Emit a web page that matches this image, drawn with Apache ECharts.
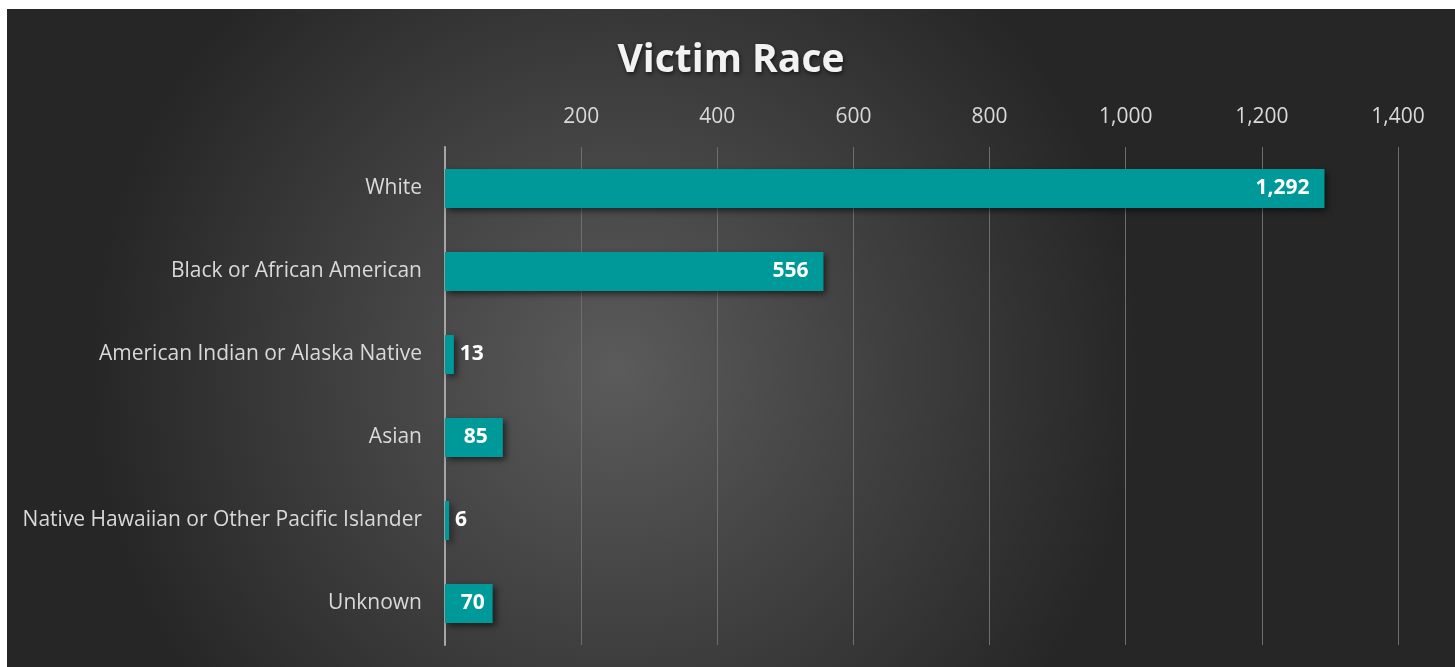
<!DOCTYPE html>
<html>
<head>
<meta charset="utf-8">
<title>Victim Race</title>
<script src="https://cdn.jsdelivr.net/npm/echarts@6/dist/echarts.min.js"></script>
<style>
    html, body { margin: 0; padding: 0; background: #ffffff; }
    #chart { position: absolute; left: 7px; top: 9px; width: 1448px; height: 658px; }
</style>
</head>
<body>
<div id="chart"></div>
<script>
var races = ['White', 'Black or African American', 'American Indian or Alaska Native', 'Asian', 'Native Hawaiian or Other Pacific Islander', 'Unknown'];
var victims = [1292, 556, 13, 85, 6, 70];
var ticks = [0, 200, 400, 600, 800, 1000, 1200, 1400];

function showBar() {
    var myChart = echarts.init(document.getElementById('chart'));
    var barData = victims.map(function (v) {
        // small bars get their label outside, like the original
        var outside = v < 40;
        return {
            value: v,
            label: {
                position: outside ? 'right' : 'insideRight',
                distance: outside ? 6 : (v < 80 ? 8 : 15)
            }
        };
    });
    var option = {
        backgroundColor: {
            type: 'radial', x: 0.42, y: 0.55, r: 0.8,
            colorStops: [
                {offset: 0, color: '#5b5b5b'},
                {offset: 1, color: '#262626'}
            ]
        },
        title: {
            text: 'Victim Race',
            left: 'center',
            top: 27,
            textStyle: {
                fontFamily: 'Open Sans',
                fontSize: 39,
                fontWeight: 'bold',
                color: '#f2f2f2',
                textShadowColor: 'rgba(0,0,0,0.6)',
                textShadowBlur: 4,
                textShadowOffsetX: 1,
                textShadowOffsetY: 2
            }
        },
        grid: {left: 438, right: 57, top: 138, bottom: 22},
        xAxis: {
            type: 'value',
            position: 'top',
            min: ticks[0],
            max: ticks[ticks.length - 1],
            interval: 200,
            axisLine: {show: false},
            axisTick: {show: false},
            axisLabel: {
                margin: 19,
                color: '#d9d9d9',
                fontFamily: 'Open Sans',
                fontSize: 21,
                formatter: function (v) {
                    return v === 0 ? '' : v.toLocaleString('en-US');
                }
            },
            splitLine: {lineStyle: {color: '#6e6e6e', width: 1}}
        },
        yAxis: {
            type: 'category',
            inverse: true,
            data: races,
            axisLine: {lineStyle: {color: '#a6a6a6', width: 2}},
            axisTick: {show: false},
            axisLabel: {
                margin: 23,
                padding: [5, 0, 0, 0],
                color: '#d9d9d9',
                fontFamily: 'Open Sans',
                fontSize: 21
            }
        },
        series: [{
            type: 'bar',
            data: barData,
            barWidth: '47%',
            itemStyle: {
                color: '#009999',
                shadowColor: 'rgba(0,0,0,0.55)',
                shadowBlur: 6,
                shadowOffsetX: 3,
                shadowOffsetY: 3
            },
            label: {
                show: true,
                color: '#ffffff',
                fontFamily: 'Open Sans',
                fontWeight: 'bold',
                fontSize: 21,
                padding: [5, 0, 0, 0],
                formatter: function (p) {
                    return p.value.toLocaleString('en-US');
                }
            },
            z: 3
        }]
    };
    myChart.setOption(option);
}
showBar();
</script>
</body>
</html>
